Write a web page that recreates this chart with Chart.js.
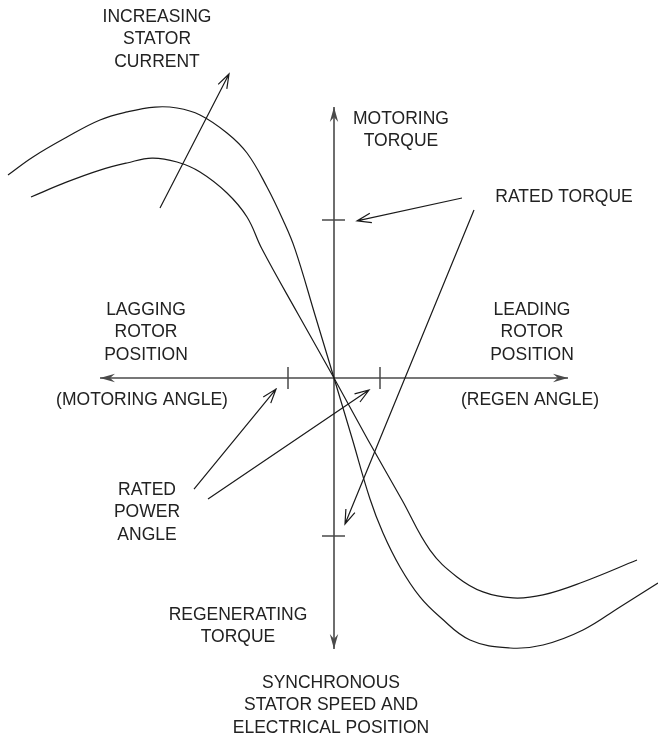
<!DOCTYPE html>
<html>
<head>
<meta charset="utf-8">
<script src="https://cdn.jsdelivr.net/npm/chart.js@4"></script>
<style>
  html, body { margin: 0; padding: 0; background: #fff; }
  #wrap { width: 658px; height: 736px; }
</style>
</head>
<body>
<div id="wrap"><canvas id="torqueChart" width="658" height="736"></canvas></div>
<script>
// rotor angle in electrical degrees, torque in % of rated torque
const outerAngle  = [-163, -150.5, -133.5, -117, -103.5, -89.5, -78.5, -67, -53.5, -43.5, -33.5, -25.5, -19.5, -9.5, 0, 9, 18, 24.5, 33, 43, 53, 68, 88, 104.5, 124.5, 143, 162];
const outerTorque = [128.5, 139.9, 152.5, 163.3, 168.4, 171.5, 170.9, 166.5, 155.1, 142.4, 120.9, 100, 81.6, 39.9, 0, -38, -76.6, -98.1, -119.6, -138.6, -151.3, -165.8, -170.9, -169, -159.5, -144.9, -129.7];
const innerAngle  = [-151.5, -133.5, -117, -103.5, -91, -78.5, -67, -53.5, -43.5, -36, -18, 0, 17, 34, 48, 61.5, 74.5, 89.5, 104.5, 124.5, 151.5];
const innerTorque = [114.6, 124.1, 131.6, 136.1, 139.2, 136.7, 130.4, 117.1, 101.9, 81.6, 40.5, 0, -39.2, -77.2, -108.9, -125.9, -135.4, -139.2, -137.3, -129.1, -115.2];

const ratedTorque = 100;
const ratedPowerAngle = 23;
const axisAngleEnd = 117;
const axisTorqueEnd = 171.5;

// annotation arrows: [fromAngle, fromTorque, toAngle, toTorque]
const pointerArrows = [
  [-87, 107.6, -52.5, 192.4],
  [64, 113.9, 11.5, 99.4],
  [70, 106.3, 5.5, -92.4],
  [-70, -70.3, -29, -7],
  [-63, -76.6, 17.5, -7.6]
];

// text blocks: angle, torque of first line centre, lines
const labels = [
  [-88.5, 228.5, ['INCREASING', 'STATOR', 'CURRENT']],
  [33.5, 163.9, ['MOTORING', 'TORQUE']],
  [115, 114.6, ['RATED TORQUE']],
  [-94, 43, ['LAGGING', 'ROTOR', 'POSITION']],
  [-96, -13.9, ['(MOTORING ANGLE)']],
  [99, 43, ['LEADING', 'ROTOR', 'POSITION']],
  [98, -13.9, ['(REGEN ANGLE)']],
  [-93.5, -70.9, ['RATED', 'POWER', 'ANGLE']],
  [-48, -150, ['REGENERATING', 'TORQUE']],
  [-1.5, -193, ['SYNCHRONOUS', 'STATOR SPEED AND', 'ELECTRICAL POSITION']]
];

const toPoints = (xs, ys) => xs.map((x, i) => ({ x: x, y: ys[i] }));

const ink = '#1a1a1a';
const axisInk = '#4a4a4a';

const diagramPlugin = {
  id: 'diagram',
  afterDatasetsDraw(chart) {
    const ctx = chart.ctx;
    const xs = chart.scales.x, ys = chart.scales.y;
    const px = v => xs.getPixelForValue(v);
    const py = v => ys.getPixelForValue(v);
    ctx.save();

    // filled dart arrowheads on the axes
    function dart(x1, y1, x2, y2) {
      const a = Math.atan2(y2 - y1, x2 - x1);
      const len = 15, half = 4.2, notch = 10;
      ctx.beginPath();
      ctx.moveTo(x2, y2);
      ctx.lineTo(x2 - len * Math.cos(a) + half * Math.sin(a), y2 - len * Math.sin(a) - half * Math.cos(a));
      ctx.lineTo(x2 - notch * Math.cos(a), y2 - notch * Math.sin(a));
      ctx.lineTo(x2 - len * Math.cos(a) - half * Math.sin(a), y2 - len * Math.sin(a) + half * Math.cos(a));
      ctx.closePath();
      ctx.fillStyle = axisInk;
      ctx.fill();
    }
    const ox = px(0), oy = py(0);
    dart(ox, oy, px(-axisAngleEnd), oy);
    dart(ox, oy, px(axisAngleEnd), oy);
    dart(ox, oy, ox, py(axisTorqueEnd));
    dart(ox, oy, ox, py(-axisTorqueEnd));

    // ticks
    ctx.strokeStyle = axisInk;
    ctx.lineWidth = 1.5;
    ctx.beginPath();
    [ratedTorque, -ratedTorque].forEach(t => {
      ctx.moveTo(ox - 12, py(t));
      ctx.lineTo(ox + 11, py(t));
    });
    [ratedPowerAngle, -ratedPowerAngle].forEach(a => {
      ctx.moveTo(px(a), oy - 11);
      ctx.lineTo(px(a), oy + 11);
    });
    ctx.stroke();

    // pointer arrows with open heads
    ctx.strokeStyle = ink;
    ctx.lineWidth = 1.2;
    pointerArrows.forEach(([a1, t1, a2, t2]) => {
      const x1 = px(a1), y1 = py(t1), x2 = px(a2), y2 = py(t2);
      const a = Math.atan2(y2 - y1, x2 - x1);
      const len = 15, spread = 0.33;
      ctx.beginPath();
      ctx.moveTo(x1, y1);
      ctx.lineTo(x2, y2);
      ctx.moveTo(x2 - len * Math.cos(a - spread), y2 - len * Math.sin(a - spread));
      ctx.lineTo(x2, y2);
      ctx.lineTo(x2 - len * Math.cos(a + spread), y2 - len * Math.sin(a + spread));
      ctx.stroke();
    });

    // text
    ctx.fillStyle = '#222';
    ctx.font = '17.5px "Liberation Sans", Arial, sans-serif';
    ctx.textAlign = 'center';
    ctx.textBaseline = 'middle';
    labels.forEach(([a, t, lines]) => {
      lines.forEach((s, i) => ctx.fillText(s, px(a), py(t) + i * 22.5));
    });
    ctx.restore();
  }
};

new Chart(document.getElementById('torqueChart').getContext('2d'), {
  type: 'scatter',
  data: {
    datasets: [
      {
        label: 'Higher stator current',
        data: toPoints(outerAngle, outerTorque),
        showLine: true,
        borderColor: ink,
        borderWidth: 1.2,
        pointRadius: 0,
        tension: 0.4
      },
      {
        label: 'Lower stator current',
        data: toPoints(innerAngle, innerTorque),
        showLine: true,
        borderColor: ink,
        borderWidth: 1.2,
        pointRadius: 0,
        tension: 0.4
      },
      {
        label: 'Rotor position axis',
        data: [{ x: -axisAngleEnd, y: 0 }, { x: axisAngleEnd, y: 0 }],
        showLine: true,
        borderColor: axisInk,
        borderWidth: 1.6,
        pointRadius: 0
      },
      {
        label: 'Torque axis',
        data: [{ x: 0, y: -axisTorqueEnd }, { x: 0, y: axisTorqueEnd }],
        showLine: true,
        borderColor: axisInk,
        borderWidth: 1.6,
        pointRadius: 0
      }
    ]
  },
  options: {
    responsive: false,
    animation: false,
    layout: { padding: 0 },
    plugins: { legend: { display: false }, tooltip: { enabled: false } },
    scales: {
      x: { type: 'linear', min: -167, max: 162, display: false },
      y: { type: 'linear', min: -226.58, max: 239.24, display: false }
    }
  },
  plugins: [diagramPlugin]
});
</script>
</body>
</html>
